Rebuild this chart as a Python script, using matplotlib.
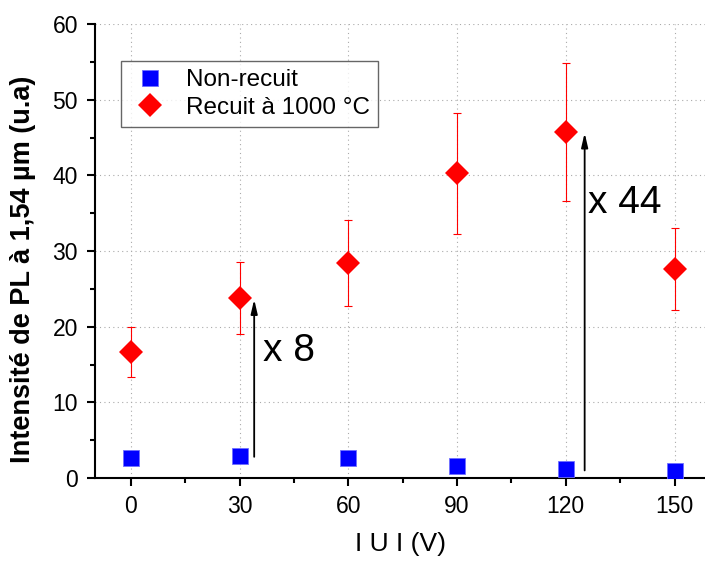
import matplotlib
matplotlib.use("Agg")
import matplotlib.pyplot as plt

plt.rcParams['font.family'] = ['Liberation Sans', 'DejaVu Sans']

# data
tension = [0, 30, 60, 90, 120, 150]
non_recuit = [2.6, 2.9, 2.6, 1.6, 1.15, 0.9]
recuit = [16.65, 23.75, 28.4, 40.25, 45.7, 27.65]
recuit_err = [3.35, 4.75, 5.7, 8.05, 9.1, 5.45]

# gain arrows and their labels
arrows_x = [34, 125.2]
arrows_y0 = [2.8, 1.0]
arrows_y1 = [23.6, 45.6]
gain_labels = ["x 8", "x 44"]
gain_label_x = [36.3, 126.2]
gain_label_y = [16.8, 36.3]

fig = plt.figure(figsize=(7.05, 5.64), dpi=100)
ax = fig.add_axes([94.75 / 705, 86 / 564, 616 / 705, 454 / 564])

ax.errorbar(tension, recuit, yerr=recuit_err, fmt='none', ecolor='red',
            elinewidth=0.8, capsize=3, capthick=0.8, zorder=3)
ax.plot(tension, non_recuit, 's', color='blue', markersize=12,
        markeredgecolor='#6f6fff', markeredgewidth=0.6, label='Non-recuit',
        zorder=4)
ax.plot(tension, recuit, 'D', color='red', markersize=12.5,
        markeredgewidth=0, label='Recuit à 1000 °C', zorder=4)

for xa, y0, y1 in zip(arrows_x, arrows_y0, arrows_y1):
    ax.annotate('', xy=(xa, y1), xytext=(xa, y0),
                arrowprops=dict(arrowstyle='-|>,head_length=0.6,head_width=0.14',
                                color='black', lw=1.3, mutation_scale=14,
                                shrinkA=0, shrinkB=0))
for lab, tx, ty in zip(gain_labels, gain_label_x, gain_label_y):
    ax.text(tx, ty, lab, fontsize=28, va='center', ha='left')

ax.set_xlim(-10, 160)
ax.set_ylim(0, 60)
ax.set_xticks(tension)
ax.set_xticks([15, 45, 75, 105, 135], minor=True)
ax.set_yticks([0, 10, 20, 30, 40, 50, 60])
ax.set_yticks([5, 15, 25, 35, 45, 55], minor=True)
ax.grid(True, which='major', linestyle=(0, (1, 3)), color='#aaaaaa', lw=0.8)
ax.set_axisbelow(True)

for s in ['top', 'right']:
    ax.spines[s].set_visible(False)
for s in ['left', 'bottom']:
    ax.spines[s].set_linewidth(1.5)

ax.tick_params(which='major', direction='out', length=6, width=1.5,
               labelsize=16.5, pad=6)
ax.tick_params(which='minor', direction='out', length=3.5, width=1.5)

ax.set_ylabel('Intensité de PL à 1,54 µm (u.a)', fontsize=19.5,
              fontweight='bold')
ax.yaxis.set_label_coords(-0.095, 0.46)
ax.set_xlabel('I U I (V)', fontsize=19)
ax.xaxis.set_label_coords(0.497, -0.12)

leg = ax.legend(loc='upper left', bbox_to_anchor=(0.043, 0.919),
                borderaxespad=0, fancybox=False, edgecolor='#404040',
                fontsize=17.5, handlelength=1.7, handletextpad=0.6,
                borderpad=0.35, labelspacing=0.22)
leg.get_frame().set_linewidth(1.0)

fig.savefig('out.png', dpi=100)
